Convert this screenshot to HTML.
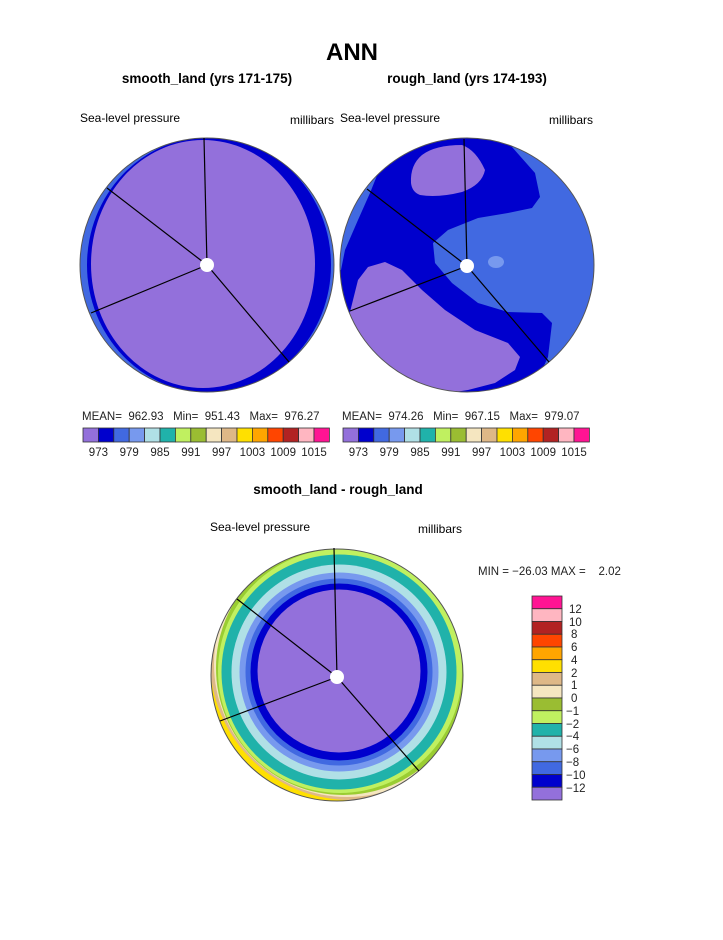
<!DOCTYPE html>
<html><head><meta charset="utf-8"><style>
body{margin:0;background:#fff;}
svg text{font-family:"Liberation Sans",sans-serif;white-space:pre;}
</style></head><body>
<svg width="723" height="935" viewBox="0 0 723 935" xmlns="http://www.w3.org/2000/svg" xml:space="preserve">
<defs>
<clipPath id="c1"><circle cx="207" cy="265" r="127"/></clipPath>
<clipPath id="c2"><circle cx="467" cy="265" r="127"/></clipPath>
<clipPath id="c3"><circle cx="337" cy="675" r="126"/></clipPath>
</defs>
<text x="352" y="60" font-size="24" font-weight="bold" text-anchor="middle">ANN</text>
<text x="207" y="83" font-size="13.5" font-weight="bold" text-anchor="middle">smooth_land (yrs 171-175)</text>
<text x="467" y="83" font-size="13.5" font-weight="bold" text-anchor="middle">rough_land (yrs 174-193)</text>
<text x="80" y="122" font-size="12">Sea-level pressure</text>
<text x="290" y="124" font-size="12">millibars</text>
<text x="340" y="122" font-size="12">Sea-level pressure</text>
<text x="549" y="124" font-size="12">millibars</text>

<g clip-path="url(#c1)">
<rect x="70" y="130" width="280" height="270" fill="#4169E1"/>
<ellipse cx="209" cy="265" rx="122" ry="128" fill="#0000CD"/>
<ellipse cx="203" cy="264" rx="112" ry="124" fill="#9370DB"/>
</g>
<circle cx="207" cy="265" r="127" fill="none" stroke="#555" stroke-width="1"/>
<g stroke="#000" stroke-width="1.2">
<line x1="207" y1="265" x2="204" y2="138"/><line x1="207" y1="265" x2="107" y2="188"/>
<line x1="207" y1="265" x2="91" y2="313"/><line x1="207" y1="265" x2="289" y2="362"/>
</g>
<circle cx="207" cy="265" r="7" fill="#fff"/>

<g clip-path="url(#c2)">
<rect x="330" y="130" width="280" height="270" fill="#0000CD"/>
<path d="M512,147 L535,173 L540,197 L532,208 L508,213 L478,218 L448,230 L433,243 L435,263 L452,283 L478,303 L508,312 L542,313 L552,323 L548,357 L542,370 L620,420 L620,110 Z" fill="#4169E1"/>
<path d="M378,173 L370,193 L358,220 L345,250 L341,270 L320,270 L320,150 Z" fill="#4169E1"/>
<path d="M411,183 Q410,165 422,155 Q435,145 462,145 Q476,150 485,170 Q482,185 462,192 Q438,198 420,195 Q412,192 411,183 Z" fill="#9370DB"/>
<path d="M350,312 L358,280 L368,267 L385,262 L402,270 L422,290 L445,310 L475,330 L508,343 L520,357 L515,370 L495,383 L468,390 L435,395 L402,385 L368,360 L340,330 Z" fill="#9370DB"/>
<ellipse cx="496" cy="262" rx="8" ry="6" fill="#7799EE"/>
</g>
<circle cx="467" cy="265" r="127" fill="none" stroke="#555" stroke-width="1"/>
<g stroke="#000" stroke-width="1.2">
<line x1="467" y1="266" x2="464" y2="139"/><line x1="467" y1="266" x2="367" y2="189"/>
<line x1="467" y1="266" x2="350" y2="311"/><line x1="467" y1="266" x2="549" y2="362"/>
</g>
<circle cx="467" cy="266" r="7" fill="#fff"/>

<text x="82" y="420" font-size="11.5" fill="#222">MEAN=  962.93   Min=  951.43   Max=  976.27</text>
<text x="342" y="420" font-size="11.5" fill="#222">MEAN=  974.26   Min=  967.15   Max=  979.07</text>
<g id="hb" stroke="#333" stroke-width="0.8">
<rect x="83" y="428" width="15.4" height="14" fill="#9370DB"/>
<rect x="98.4" y="428" width="15.4" height="14" fill="#0000CD"/>
<rect x="113.8" y="428" width="15.4" height="14" fill="#4169E1"/>
<rect x="129.2" y="428" width="15.4" height="14" fill="#7799EE"/>
<rect x="144.6" y="428" width="15.4" height="14" fill="#B0E0E6"/>
<rect x="160" y="428" width="15.4" height="14" fill="#20B2AA"/>
<rect x="175.4" y="428" width="15.4" height="14" fill="#C0F060"/>
<rect x="190.8" y="428" width="15.4" height="14" fill="#9ABD32"/>
<rect x="206.2" y="428" width="15.4" height="14" fill="#F5E6C0"/>
<rect x="221.6" y="428" width="15.4" height="14" fill="#DEB887"/>
<rect x="237" y="428" width="15.4" height="14" fill="#FFE000"/>
<rect x="252.4" y="428" width="15.4" height="14" fill="#FFA500"/>
<rect x="267.8" y="428" width="15.4" height="14" fill="#FF4500"/>
<rect x="283.2" y="428" width="15.4" height="14" fill="#B22222"/>
<rect x="298.6" y="428" width="15.4" height="14" fill="#FFB6C1"/>
<rect x="314" y="428" width="15.4" height="14" fill="#FF1493"/>
</g>
<use href="#hb" x="260"/>
<g font-size="11.5" text-anchor="middle" fill="#222">
<text x="98.4" y="456">973</text><text x="129.2" y="456">979</text><text x="160" y="456">985</text><text x="190.8" y="456">991</text><text x="221.6" y="456">997</text><text x="252.4" y="456">1003</text><text x="283.2" y="456">1009</text><text x="314" y="456">1015</text>
<text x="358.4" y="456">973</text><text x="389.2" y="456">979</text><text x="420" y="456">985</text><text x="450.8" y="456">991</text><text x="481.6" y="456">997</text><text x="512.4" y="456">1003</text><text x="543.2" y="456">1009</text><text x="574" y="456">1015</text>
</g>

<text x="338" y="494" font-size="13.5" font-weight="bold" text-anchor="middle">smooth_land - rough_land</text>
<text x="210" y="531" font-size="12">Sea-level pressure</text>
<text x="418" y="533" font-size="12">millibars</text>
<g clip-path="url(#c3)">
<rect x="200" y="540" width="280" height="270" fill="#FFE000"/>
<circle cx="350" cy="660" r="140" fill="#DEB887"/>
<circle cx="347" cy="664" r="133" fill="#F5E6C0"/>
<circle cx="343" cy="668" r="127" fill="#9ACD32"/>
<circle cx="340" cy="671" r="122" fill="#C0F060"/>
<circle cx="339" cy="672" r="117.5" fill="#20B2AA"/>
<circle cx="339" cy="672" r="107.5" fill="#B0E0E6"/>
<circle cx="339" cy="672" r="99.5" fill="#7799EE"/>
<circle cx="339" cy="672" r="93.5" fill="#4169E1"/>
<circle cx="339" cy="672" r="88.5" fill="#0000CD"/>
<circle cx="339" cy="671" r="81.5" fill="#9370DB"/>
</g>
<circle cx="337" cy="675" r="126" fill="none" stroke="#555" stroke-width="1"/>
<g stroke="#000" stroke-width="1.2">
<line x1="337" y1="677" x2="334" y2="548"/><line x1="337" y1="677" x2="237" y2="599"/>
<line x1="337" y1="677" x2="220" y2="721"/><line x1="337" y1="677" x2="419" y2="771"/>
</g>
<circle cx="337" cy="677" r="7" fill="#fff"/>

<text x="478" y="575" font-size="11.5" fill="#222">MIN = −26.03 MAX =    2.02</text>
<g stroke="#333" stroke-width="0.8">
<rect x="532" y="596" width="30" height="12.75" fill="#FF1493"/>
<rect x="532" y="608.75" width="30" height="12.75" fill="#FFB6C1"/>
<rect x="532" y="621.5" width="30" height="12.75" fill="#B22222"/>
<rect x="532" y="634.25" width="30" height="12.75" fill="#FF4500"/>
<rect x="532" y="647" width="30" height="12.75" fill="#FFA500"/>
<rect x="532" y="659.75" width="30" height="12.75" fill="#FFE000"/>
<rect x="532" y="672.5" width="30" height="12.75" fill="#DEB887"/>
<rect x="532" y="685.25" width="30" height="12.75" fill="#F5E6C0"/>
<rect x="532" y="698" width="30" height="12.75" fill="#9ABD32"/>
<rect x="532" y="710.75" width="30" height="12.75" fill="#C0F060"/>
<rect x="532" y="723.5" width="30" height="12.75" fill="#20B2AA"/>
<rect x="532" y="736.25" width="30" height="12.75" fill="#B0E0E6"/>
<rect x="532" y="749" width="30" height="12.75" fill="#7799EE"/>
<rect x="532" y="761.75" width="30" height="12.75" fill="#4169E1"/>
<rect x="532" y="774.5" width="30" height="12.75" fill="#0000CD"/>
<rect x="532" y="787.25" width="30" height="12.75" fill="#9370DB"/>
</g>
<g font-size="11.5" fill="#222">
<text x="569" y="613">12</text><text x="569" y="626">10</text><text x="571" y="638">8</text><text x="571" y="651">6</text><text x="571" y="664">4</text><text x="571" y="677">2</text><text x="571" y="689">1</text><text x="571" y="702">0</text><text x="566" y="715">−1</text><text x="566" y="728">−2</text><text x="566" y="740">−4</text><text x="566" y="753">−6</text><text x="566" y="766">−8</text><text x="566" y="779">−10</text><text x="566" y="792">−12</text>
</g>
</svg>
</body></html>
